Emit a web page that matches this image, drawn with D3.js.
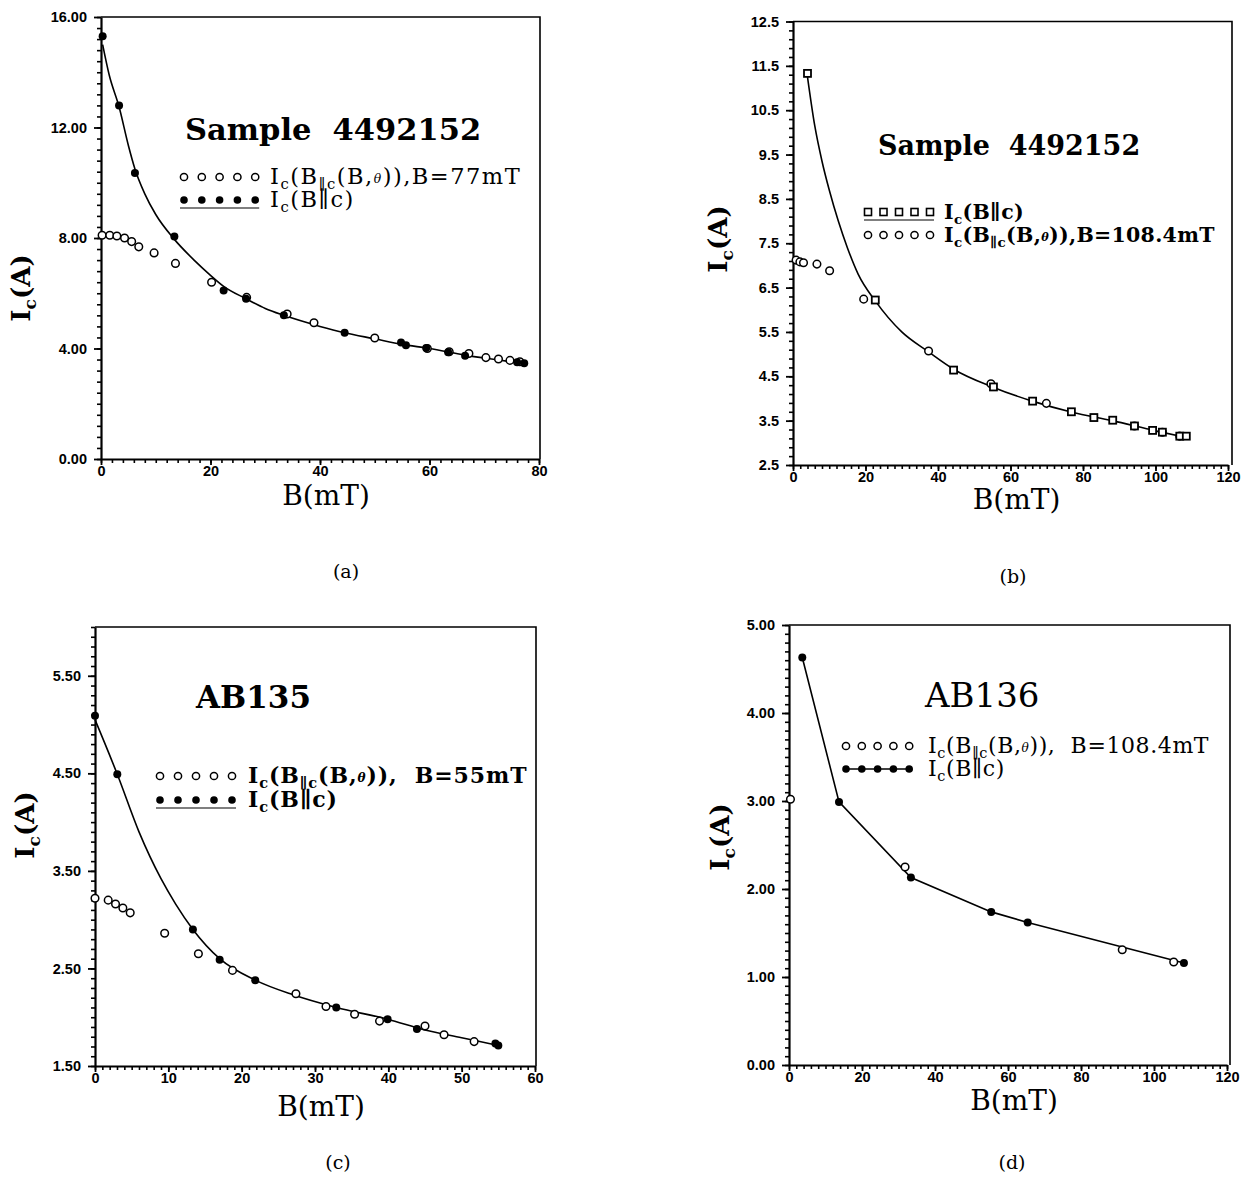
<!DOCTYPE html>
<html>
<head>
<meta charset="utf-8">
<script src="https://cdn.jsdelivr.net/npm/d3@7"></script>
<style>
  body { margin: 0; background: #fff; }
  .tick text { font-family: "Liberation Sans", Arial, sans-serif; font-weight: bold; font-size: 14.5px; fill: #000; }
  .serif { font-family: "DejaVu Serif", serif; fill: #000; white-space: pre; }
</style>
</head>
<body>
<div id="figure"></div>
<script>
// ---- panel (a) : Sample 4492152, B=77mT
var aParB  = [0.3, 3.3, 6.2, 13.4, 22.4, 26.5, 33.4, 44.5, 54.8, 55.7, 59.4, 63.4, 66.5, 76.0, 77.3];
var aParIc = [15.3, 12.8, 10.35, 8.05, 6.1, 5.8, 5.2, 4.57, 4.22, 4.12, 4.02, 3.86, 3.74, 3.5, 3.47];
var aAngB  = [0.2, 1.6, 2.9, 4.3, 5.6, 6.9, 9.7, 13.6, 20.2, 26.6, 34.0, 38.9, 50.0, 59.6, 63.6, 67.2, 70.3, 72.6, 74.7, 76.5];
var aAngIc = [8.1, 8.1, 8.07, 8.0, 7.87, 7.68, 7.46, 7.08, 6.4, 5.85, 5.25, 4.93, 4.38, 4.0, 3.88, 3.82, 3.67, 3.62, 3.57, 3.52];
var aFitB  = [0.3, 1.5, 3.3, 5, 6.2, 8, 10, 13.4, 17, 20, 22.4, 26.5, 30, 33.4, 40, 44.5, 50, 55, 60, 66.5, 72, 77.3];
var aFitIc = [15.0, 13.9, 12.75, 11.35, 10.5, 9.6, 8.85, 7.95, 7.2, 6.65, 6.25, 5.8, 5.45, 5.2, 4.8, 4.57, 4.35, 4.15, 4.0, 3.76, 3.6, 3.45];
var aXTicks = [0, 20, 40, 60, 80];
var aYTicks = [0, 4, 8, 12, 16];

// ---- panel (b) : Sample 4492152, B=108.4mT
var bParB  = [4.0, 22.7, 44.3, 55.3, 66.1, 76.8, 83.0, 88.2, 94.2, 99.2, 101.9, 106.7, 108.5];
var bParIc = [11.33, 6.22, 4.64, 4.26, 3.94, 3.70, 3.57, 3.51, 3.38, 3.28, 3.24, 3.15, 3.15];
var bAngB  = [0.85, 1.9, 2.9, 6.6, 10.1, 19.5, 37.4, 54.6, 69.9, 94.2, 101.9, 106.7];
var bAngIc = [7.12, 7.08, 7.06, 7.03, 6.88, 6.24, 5.07, 4.33, 3.89, 3.38, 3.24, 3.15];
var bFitB  = [4.0, 6, 8, 10, 12.5, 15, 18, 22.7, 30, 37.4, 44.3, 55, 66, 77, 88, 100, 108.5];
var bFitIc = [11.25, 10.15, 9.35, 8.7, 8.0, 7.4, 6.8, 6.2, 5.5, 5.05, 4.66, 4.26, 3.94, 3.69, 3.5, 3.27, 3.12];
var bXTicks = [0, 20, 40, 60, 80, 100, 120];
var bYTicks = [2.5, 3.5, 4.5, 5.5, 6.5, 7.5, 8.5, 9.5, 10.5, 11.5, 12.5];

// ---- panel (c) : AB135, B=55mT
var cParB  = [0, 3.04, 13.35, 17.0, 21.85, 32.9, 39.9, 43.9, 54.6, 55.0];
var cParIc = [5.09, 4.49, 2.9, 2.59, 2.38, 2.1, 1.98, 1.88, 1.73, 1.71];
var cAngB  = [0, 1.8, 2.8, 3.8, 4.8, 9.5, 14.1, 18.75, 27.4, 31.5, 35.4, 38.8, 45.0, 47.6, 51.7];
var cAngIc = [3.22, 3.2, 3.16, 3.12, 3.07, 2.86, 2.65, 2.48, 2.24, 2.11, 2.03, 1.96, 1.91, 1.82, 1.75];
var cFitB  = [0, 3.04, 6, 9, 11, 13.35, 17, 21.85, 27, 32.9, 39.9, 45, 50, 55];
var cFitIc = [5.05, 4.49, 3.9, 3.42, 3.16, 2.9, 2.6, 2.38, 2.23, 2.1, 1.98, 1.87, 1.79, 1.71];
var cXTicks = [0, 10, 20, 30, 40, 50, 60];
var cYTicks = [1.5, 2.5, 3.5, 4.5, 5.5];

// ---- panel (d) : AB136, B=108.4mT
var dParB  = [3.64, 13.7, 33.4, 55.4, 65.4, 108.2];
var dParIc = [4.63, 2.99, 2.13, 1.74, 1.62, 1.16];
var dAngB  = [0.4, 31.8, 91.3, 105.4];
var dAngIc = [3.02, 2.25, 1.31, 1.17];
var dXTicks = [0, 20, 40, 60, 80, 100, 120];
var dYTicks = [0, 1, 2, 3, 4, 5];

var zip = (xs, ys) => xs.map((v, i) => [v, ys[i]]);

var svg = d3.select("#figure")
  .append("svg")
  .attr("width", 1244)
  .attr("height", 1202)
  .style("background", "#fff");

// text with sub-scripts: parts are strings or [string, "sub"|"th"]
function richText(g, x, y, parts, size, weight, rotate, spacing) {
  var t = g.append("text")
    .attr("class", "serif")
    .attr("x", x)
    .attr("y", y)
    .style("font-size", size + "px")
    .style("font-weight", weight || "normal")
    .style("letter-spacing", (spacing || 0) + "px");
  if (rotate) t.attr("transform", `rotate(-90, ${x}, ${y})`);
  var cur = 0;
  parts.forEach(p => {
    var txt = typeof p === "string" ? p : p[0];
    var kind = typeof p === "string" ? null : p[1];
    var off = 0, fs = size;
    if (kind === "sub") { off = size * 0.24; fs = size * 0.66; }
    if (kind === "th") { off = -size * 0.04; fs = size * 0.55; }
    var s = t.append("tspan")
      .attr("dy", off - cur)
      .style("font-size", fs + "px")
      .text(txt);
    if (kind === "th") s.style("font-style", "italic");
    cur = off;
  });
  return t;
}

function drawPanel(p) {
  var g = svg.append("g");
  var x = d3.scaleLinear().domain(p.xDomain).range([p.left, p.right]);
  var y = d3.scaleLinear().domain(p.yDomain).range([p.bottom, p.top]);

  // frame (top + right)
  g.append("path")
    .attr("d", `M${p.left},${p.top}H${p.boxRight}V${p.bottom}`)
    .attr("fill", "none")
    .attr("stroke", "#000")
    .attr("stroke-width", 1.6);

  // minor ticks
  var xMin = d3.range(p.xDomain[0], p.xDomain[1] + 1e-6, p.xMinor);
  var yMin = d3.range(p.yDomain[0], p.yDomain[1] + 1e-6, p.yMinor);
  g.append("g")
    .attr("transform", `translate(0, ${p.bottom})`)
    .call(d3.axisBottom(x).tickValues(xMin).tickSize(4).tickSizeOuter(0).tickFormat(""))
    .call(a => a.select(".domain").remove())
    .selectAll("line").attr("stroke-width", 1.6);
  g.append("g")
    .attr("transform", `translate(${p.left}, 0)`)
    .call(d3.axisLeft(y).tickValues(yMin).tickSize(4).tickSizeOuter(0).tickFormat(""))
    .call(a => a.select(".domain").remove())
    .selectAll("line").attr("stroke-width", 1.6);

  // major ticks + labels
  var xAxis = g.append("g")
    .attr("transform", `translate(0, ${p.bottom})`)
    .call(d3.axisBottom(x).tickValues(p.xTicks).tickSize(6).tickSizeOuter(0).tickPadding(1).tickFormat(d3.format("d")));
  var yAxis = g.append("g")
    .attr("transform", `translate(${p.left}, 0)`)
    .call(d3.axisLeft(y).tickValues(p.yTicks).tickSize(7).tickSizeOuter(0).tickPadding(7).tickFormat(d3.format(p.yFmt)));
  [xAxis, yAxis].forEach(a => {
    a.select(".domain").attr("stroke-width", 2.2);
    a.selectAll("line").attr("stroke-width", 1.8);
  });

  // curve through the B||c data
  if (p.fit) {
    g.append("path")
      .datum(p.fit)
      .attr("fill", "none")
      .attr("stroke", "#000")
      .attr("stroke-width", 1.6)
      .attr("d", d3.line().curve(p.curve).x(d => x(d[0])).y(d => y(d[1])));
  }

  // angle data (open circles)
  g.selectAll(".ang")
    .data(p.ang)
    .enter()
    .append("circle")
    .attr("cx", d => x(d[0]))
    .attr("cy", d => y(d[1]))
    .attr("r", 3.8)
    .attr("fill", "#fff")
    .attr("stroke", "#000")
    .attr("stroke-width", 1.5);

  // B||c data
  if (p.square) {
    g.selectAll(".par")
      .data(p.par)
      .enter()
      .append("rect")
      .attr("x", d => x(d[0]) - 3.5)
      .attr("y", d => y(d[1]) - 3.5)
      .attr("width", 7)
      .attr("height", 7)
      .attr("fill", "#fff")
      .attr("stroke", "#000")
      .attr("stroke-width", 1.8);
  } else {
    g.selectAll(".par")
      .data(p.par)
      .enter()
      .append("circle")
      .attr("cx", d => x(d[0]))
      .attr("cy", d => y(d[1]))
      .attr("r", 4)
      .attr("fill", "#000");
  }

  // legend
  var L = p.legend;
  var mx = d3.range(5).map(i => L.x + i * L.dx);
  var rowAng = L.angFirst ? L.y1 : L.y2;
  var rowPar = L.angFirst ? L.y2 : L.y1;
  mx.forEach(cx => {
    g.append("circle").attr("cx", cx).attr("cy", rowAng).attr("r", 3.6)
      .attr("fill", "#fff").attr("stroke", "#000").attr("stroke-width", 1.5);
  });
  if (L.joined) {
    g.append("line").attr("x1", mx[0]).attr("x2", mx[4]).attr("y1", rowPar).attr("y2", rowPar)
      .attr("stroke", "#000").attr("stroke-width", 1.6);
  } else {
    g.append("line").attr("x1", mx[0] - 4).attr("x2", mx[4] + 4).attr("y1", rowPar + 8).attr("y2", rowPar + 8)
      .attr("stroke", "#000").attr("stroke-width", 1.2);
  }
  mx.forEach(cx => {
    if (p.square) {
      g.append("rect").attr("x", cx - 3.5).attr("y", rowPar - 3.5).attr("width", 7).attr("height", 7)
        .attr("fill", "#fff").attr("stroke", "#000").attr("stroke-width", 1.6);
    } else {
      g.append("circle").attr("cx", cx).attr("cy", rowPar).attr("r", 3.8).attr("fill", "#000");
    }
  });
  richText(g, L.tx, L.y1 + 7, L.line1, L.size, L.weight, false, L.spacing);
  richText(g, L.tx, L.y2 + 7, L.line2, L.size, L.weight, false, L.spacing);

  // title
  g.append("text")
    .attr("class", "serif")
    .attr("x", p.title.x)
    .attr("y", p.title.y)
    .style("font-size", p.title.size + "px")
    .style("font-weight", p.title.weight)
    .text(p.title.text);

  // axis titles
  g.append("text")
    .attr("class", "serif")
    .attr("x", (p.left + p.right) / 2 + 6)
    .attr("y", p.xLabelY)
    .attr("text-anchor", "middle")
    .style("font-size", "28px")
    .text("B(mT)");
  richText(g, p.yLabelX, p.yLabelY, ["I", ["c", "sub"], "(A)"], 26, "bold", true)
    .attr("text-anchor", "middle");

  // caption
  g.append("text")
    .attr("class", "serif")
    .attr("x", p.caption.x)
    .attr("y", p.caption.y)
    .attr("text-anchor", "middle")
    .style("font-size", "19px")
    .text(p.caption.text);
}

var angLine = (n) => ["I", ["c", "sub"], "(B", ["\u2225c", "sub"], "(B,", ["\u03b8", "th"], n];
var parLine = ["I", ["c", "sub"], "(B\u2225c)"];

drawPanel({
  left: 101, right: 539, boxRight: 540, top: 17, bottom: 459,
  xDomain: [0, 80], yDomain: [0, 16], xTicks: aXTicks, yTicks: aYTicks,
  xMinor: 2, yMinor: 0.4, yFmt: ".2f",
  par: zip(aParB, aParIc), ang: zip(aAngB, aAngIc), fit: zip(aFitB, aFitIc), curve: d3.curveMonotoneX,
  legend: { x: 184, dx: 17.8, y1: 177, y2: 200, tx: 270, size: 22.5, spacing: 1.5, weight: "normal", angFirst: true,
    line1: angLine(")),B=77mT"), line2: parLine },
  title: { x: 185, y: 140, text: "Sample  4492152", size: 30.5, weight: "bold" },
  xLabelY: 505, yLabelX: 30, yLabelY: 288,
  caption: { x: 346, y: 578, text: "(a)" }
});

drawPanel({
  left: 793, right: 1228, boxRight: 1232, top: 21.5, bottom: 465,
  xDomain: [0, 120], yDomain: [2.5, 12.5], xTicks: bXTicks, yTicks: bYTicks,
  xMinor: 2, yMinor: 0.2, yFmt: ".1f", square: true,
  par: zip(bParB, bParIc), ang: zip(bAngB, bAngIc), fit: zip(bFitB, bFitIc), curve: d3.curveMonotoneX,
  legend: { x: 868, dx: 15.5, y1: 212, y2: 235, tx: 944, size: 20.5, spacing: 0.3, weight: "bold", angFirst: false,
    line1: parLine, line2: angLine(")),B=108.4mT") },
  title: { x: 878, y: 155, text: "Sample  4492152", size: 27, weight: "bold" },
  xLabelY: 509, yLabelX: 727, yLabelY: 239,
  caption: { x: 1013, y: 583, text: "(b)" }
});

drawPanel({
  left: 95, right: 535, boxRight: 536, top: 627, bottom: 1066,
  xDomain: [0, 60], yDomain: [1.5, 6.0], xTicks: cXTicks, yTicks: cYTicks,
  xMinor: 1, yMinor: 0.1, yFmt: ".2f",
  par: zip(cParB, cParIc), ang: zip(cAngB, cAngIc), fit: zip(cFitB, cFitIc), curve: d3.curveMonotoneX,
  legend: { x: 160, dx: 18, y1: 776, y2: 800, tx: 248, size: 22, spacing: 0.9, weight: "bold", angFirst: true,
    line1: angLine(")),  B=55mT"), line2: parLine },
  title: { x: 196, y: 708, text: "AB135", size: 31, weight: "bold" },
  xLabelY: 1116, yLabelX: 34, yLabelY: 825,
  caption: { x: 338, y: 1169, text: "(c)" }
});

drawPanel({
  left: 789, right: 1227, boxRight: 1230, top: 625, bottom: 1065,
  xDomain: [0, 120], yDomain: [0, 5], xTicks: dXTicks, yTicks: dYTicks,
  xMinor: 2, yMinor: 0.1, yFmt: ".2f",
  par: zip(dParB, dParIc), ang: zip(dAngB, dAngIc), fit: zip(dParB, dParIc), curve: d3.curveLinear,
  legend: { x: 846, dx: 15.8, y1: 746, y2: 769, tx: 928, size: 22, spacing: 0.6, weight: "normal", angFirst: true, joined: true,
    line1: angLine(")),  B=108.4mT"), line2: parLine },
  title: { x: 925, y: 707, text: "AB136", size: 34, weight: "normal" },
  xLabelY: 1110, yLabelX: 729, yLabelY: 837,
  caption: { x: 1012, y: 1169, text: "(d)" }
});
</script>
</body>
</html>
